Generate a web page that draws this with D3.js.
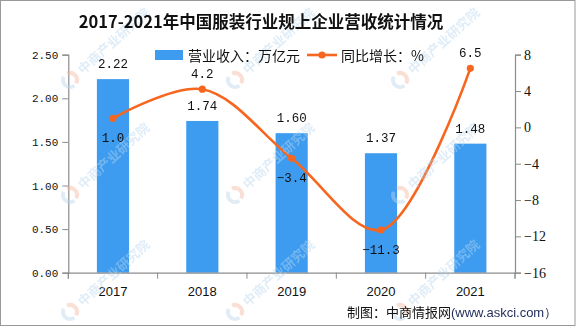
<!DOCTYPE html>
<html><head><meta charset="utf-8">
<script src="https://cdn.jsdelivr.net/npm/d3@7"></script>
<style>body{margin:0;background:#fff}svg{display:block}</style>
</head><body>
<svg id="c" width="576" height="327"></svg>
<script>
const years = ["2017","2018","2019","2020","2021"];
const revenue = [2.22, 1.74, 1.60, 1.37, 1.48];
const growth = [1.0, 4.2, -3.4, -11.3, 6.5];
const leftTicks = [0, 0.5, 1.0, 1.5, 2.0, 2.5];
const rightTicks = [-16, -12, -8, -4, 0, 4, 8];
const title = "2017-2021年中国服装行业规上企业营收统计情况";
const legendBar = "营业收入：万亿元";
const legendLine = "同比增长：%";
const source = "制图：中商情报网";
const sourceUrl = "(www.askci.com）";
const watermark = "中商产业研究院";

const svg = d3.select("#c");
const W = 576, H = 327;
const barColor = "#3d9cf0", lineColor = "#f7661f", axisColor = "#8c8c8c";
const numFont = "'Liberation Mono', monospace";
const cjkFont = "'Noto Sans CJK SC', sans-serif";

const m = {l: 68.3, r: 515, t: 54.7, b: 272.7};
const x = d3.scaleBand().domain(years).range([m.l, m.r]).paddingInner(0.64).paddingOuter(0.32);
const xb = d3.scaleBand().domain(years).range([m.l, m.r]);
const yL = d3.scaleLinear().domain([0, 2.5]).range([m.b, m.t]);
const yR = d3.scaleLinear().domain([-16, 8]).range([m.b, m.t]);

// bars
svg.append("g").selectAll("rect").data(revenue).join("rect")
  .attr("x", (d, i) => x(years[i])).attr("width", x.bandwidth())
  .attr("y", d => yL(d)).attr("height", d => yL(0) - yL(d)).attr("fill", barColor);

// axes
function styleAxis(g) {
  g.selectAll("path,line").attr("stroke", axisColor);
  g.select(".domain").attr("stroke-width", 1.2);
  g.selectAll("text").attr("fill", "#111");
}
svg.append("g").attr("transform", `translate(${m.l},0)`)
  .call(d3.axisLeft(yL).tickValues(leftTicks).tickFormat(d3.format(".2f")).tickSize(6).tickSizeOuter(6).tickPadding(4))
  .call(styleAxis).call(g => g.selectAll("text").attr("font-family", numFont).attr("font-size", 11));
svg.append("g").attr("transform", `translate(${m.r},0)`)
  .call(d3.axisRight(yR).tickValues(rightTicks).tickFormat(d => d < 0 ? "−" + Math.abs(d) : d).tickSize(6).tickSizeOuter(6).tickPadding(3))
  .call(styleAxis).call(g => g.selectAll("text").attr("font-family", "'Liberation Serif', serif").attr("font-size", 14));
const xa = svg.append("g").attr("transform", `translate(0,${m.b})`)
  .call(d3.axisBottom(x).tickSize(0).tickPadding(14))
  .call(styleAxis).call(g => g.selectAll("text").attr("font-family", "'Liberation Sans', Arial, sans-serif").attr("font-size", 13));
xa.selectAll(".bt").data(years.concat(["end"])).join("line")
  .attr("x1", (d, i) => m.l + i * xb.bandwidth()).attr("x2", (d, i) => m.l + i * xb.bandwidth())
  .attr("y1", 0).attr("y2", 6).attr("stroke", axisColor);
svg.append("line").attr("x1", m.l).attr("x2", m.l).attr("y1", m.b).attr("y2", m.b + 6).attr("stroke", axisColor);
svg.append("line").attr("x1", m.r).attr("x2", m.r).attr("y1", m.b).attr("y2", m.b + 6).attr("stroke", axisColor);

// line
const cx = (i) => xb(years[i]) + xb.bandwidth() / 2;
const line = d3.line().x((d, i) => cx(i)).y(d => yR(d)).curve(d3.curveCatmullRom.alpha(0.5));
svg.append("path").datum(growth).attr("d", line).attr("fill", "none").attr("stroke", lineColor).attr("stroke-width", 2.6);
svg.append("g").selectAll("circle").data(growth).join("circle")
  .attr("cx", (d, i) => cx(i)).attr("cy", d => yR(d)).attr("r", 3.6).attr("fill", lineColor);

// watermarks (semi-transparent, over the plot like the reference)
const wm = svg.append("g").attr("opacity", 0.45);
const wmPos = [[70,80],[235,80],[400,80],[70,195],[235,195],[400,195],[70,312],[235,312],[400,312]];
wmPos.forEach(([px, py]) => {
  const g = wm.append("g").attr("transform", `translate(${px},${py}) rotate(-42)`);
  g.append("path").attr("d", d3.arc()({innerRadius: 5, outerRadius: 9, startAngle: 0.3, endAngle: 2.8})).attr("fill", "#f3b9a0");
  g.append("path").attr("d", d3.arc()({innerRadius: 5, outerRadius: 9, startAngle: 3.2, endAngle: 5.9})).attr("fill", "#b9d6ee");
  g.append("text").attr("x", 13).attr("y", 5).attr("font-family", cjkFont).attr("font-weight", "bold")
    .attr("font-size", 13).attr("fill", "#b9d6ee").text(watermark);
});

// bar labels
svg.append("g").selectAll("text").data(revenue).join("text")
  .attr("x", (d, i) => x(years[i]) + x.bandwidth() / 2).attr("y", d => yL(d) - 11)
  .attr("text-anchor", "middle").attr("font-family", numFont).attr("font-size", 12.5).attr("fill", "#111")
  .text(d => d.toFixed(2));

// line labels
const above = [false, true, false, false, true];
svg.append("g").selectAll("text").data(growth).join("text")
  .attr("x", (d, i) => cx(i)).attr("y", (d, i) => above[i] ? yR(d) - 11 : yR(d) + 24)
  .attr("text-anchor", "middle").attr("font-family", numFont).attr("font-size", 12.5).attr("fill", "#111")
  .text(d => d.toFixed(1).replace("-", "−"));

// title
svg.append("text").attr("x", 261).attr("y", 28).attr("text-anchor", "middle")
  .attr("font-family", cjkFont).attr("font-weight", "bold").attr("font-size", 16.5).attr("fill", "#111").text(title);

// legend
const lg = svg.append("g");
lg.append("rect").attr("x", 155).attr("y", 50).attr("width", 28).attr("height", 10).attr("fill", barColor);
lg.append("text").attr("x", 188).attr("y", 60.5).attr("font-family", cjkFont).attr("font-size", 14).attr("fill", "#111").text(legendBar);
lg.append("line").attr("x1", 307).attr("x2", 337).attr("y1", 55).attr("y2", 55).attr("stroke", lineColor).attr("stroke-width", 2.6);
lg.append("circle").attr("cx", 322).attr("cy", 55).attr("r", 3.6).attr("fill", lineColor);
lg.append("text").attr("x", 341).attr("y", 60.5).attr("font-family", cjkFont).attr("font-size", 14).attr("fill", "#111").text(legendLine);

// source
const st = svg.append("text").attr("x", 347).attr("y", 317).attr("font-family", cjkFont).attr("font-size", 13).attr("fill", "#111");
st.append("tspan").text(source);
st.append("tspan").attr("font-family", "'Liberation Sans', sans-serif").attr("fill", "#1f2a5a").text(sourceUrl);

// border
svg.append("rect").attr("x", 0.5).attr("y", 0.5).attr("width", W - 1.5).attr("height", H - 2).attr("fill", "none").attr("stroke", "#999");
</script>
</body></html>
